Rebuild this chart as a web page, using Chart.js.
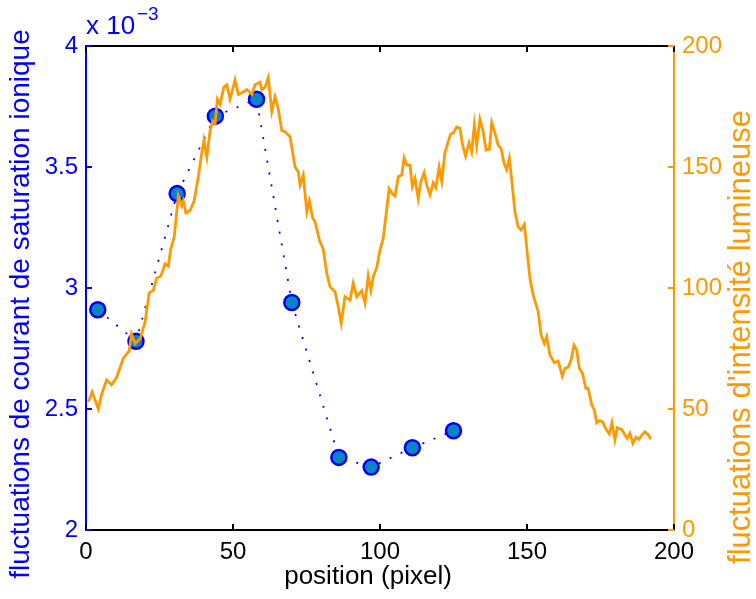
<!DOCTYPE html>
<html>
<head>
<meta charset="utf-8">
<script src="https://cdn.jsdelivr.net/npm/chart.js@4.4.1/dist/chart.umd.min.js"></script>
<style>
  html, body { margin:0; padding:0; background:#fff; }
  #wrap { width:756px; height:599px; }
</style>
</head>
<body>
<div id="wrap"><canvas id="c" width="756" height="599"></canvas></div>
<script>
// blue probe points (x 10^-3)
const posX = [4, 17, 31, 44, 58, 70, 86, 97, 111, 125];
const courant = [2.91, 2.78, 3.39, 3.71, 3.78, 2.94, 2.30, 2.26, 2.34, 2.41];

// orange light profile
const lumX = [0.8, 2.1, 4.2, 5.3, 7.0, 8.7, 10.4, 12.7, 14.7, 15.5, 16.7, 18.4, 20.1, 21.5, 22.9, 24.0, 25.5, 26.9, 28.0, 28.8,
  30.0, 31.4, 32.6, 33.1, 34.0, 35.4, 36.8, 38.2, 39.4, 40.1, 41.1, 42.2, 43.1, 43.9, 44.7, 45.6, 46.9, 47.9, 49.0, 50.7,
  51.8, 53.5, 54.7, 56.4, 57.5, 59.2, 59.8, 60.9, 62.0, 63.2, 64.3, 65.4, 66.6, 67.7, 69.4, 71.1, 72.2, 72.8, 73.9, 75.1,
  76.0, 77.1, 77.9, 79.4, 80.7, 81.9, 83.0, 84.7, 85.8, 86.8, 88.1, 89.8, 90.9, 92.1, 93.8, 94.9, 96.0, 96.9, 97.7, 98.9,
  100.0, 101.1, 103.1, 104.3, 105.1, 106.2, 107.4, 108.2, 109.1, 110.2, 111.0, 111.9, 113.0, 113.9, 115.0, 115.9, 117.0, 118.1, 119.0, 120.1,
  121.0, 122.1, 123.2, 124.0, 124.9, 126.1, 127.2, 128.1, 129.1, 130.3, 131.2, 132.1, 132.9, 134.0, 135.1, 136.1, 137.2, 138.0, 139.1, 140.2,
  141.2, 142.2, 143.1, 144.0, 144.8, 145.9, 147.0, 148.0, 149.1, 150.1, 151.0, 152.1, 153.1, 153.8, 154.8, 155.9, 156.7, 157.8, 159.3, 160.6,
  162.0, 162.9, 164.0, 165.0, 166.0, 166.9, 167.8, 168.9, 170.0, 170.8, 172.0, 172.9, 173.7, 174.6, 175.7, 176.9, 178.0, 178.9, 179.9, 180.7,
  182.2, 183.3, 184.1, 185.0, 186.0, 187.1, 188.1, 189.0, 190.1, 191.3, 192.1];
const lumY = [53, 57, 50, 56, 62, 60, 63, 71, 74, 81, 77, 79, 86, 98, 99, 104, 105, 110, 109, 116,
  121, 138, 134, 136, 131, 132, 136, 146, 156, 161, 154, 165, 169, 168, 178, 176, 183, 184, 178, 186,
  180, 181, 182, 180, 184, 185, 182, 183, 187, 173, 179, 174, 165, 164.6, 162.5, 150, 148, 142.6, 146.7, 131.5,
  136, 128.8, 127.4, 119.8, 116, 106, 100.5, 98.5, 92.3, 85.4, 96.4, 95, 102, 96.4, 98.9, 93.7, 105, 99, 104.7, 108.5,
  115.7, 120.5, 141, 138.7, 138, 146, 146.7, 153.8, 150.8, 150.8, 141.9, 145.3, 137, 144, 147.7, 142.6, 138.4, 143.5, 141.5, 150,
  144, 156, 160.5, 163.6, 164, 166.5, 166, 159, 154.5, 160, 156.3, 167.4, 159, 169.7, 164.6, 157, 157.3, 168.3, 164, 159,
  157.7, 151.5, 148.8, 153.6, 144.6, 131.5, 125.3, 124, 126.3, 114.3, 104, 97, 93, 90.2, 80.6, 77.1, 79.9, 72.3, 69.1, 69.8,
  63.6, 66.8, 67.2, 70.2, 76.4, 74.4, 66.8, 64.7, 58.5, 58.5, 51.7, 49.6, 44.3, 45.2, 44.8, 41.6, 39.7, 44.3, 37.2, 42.3,
  41.6, 39.3, 37.9, 40, 35.8, 38.3, 37.5, 39.1, 40.6, 39.3, 37.5];

const xTicks = [0, 50, 100, 150, 200];
const leftTicks = [2, 2.5, 3, 3.5, 4];
const rightTicks = [0, 50, 100, 150, 200];

const BLUE = '#0000ff';
const ORANGE = '#ff9900';
const FONT = 'Liberation Sans, Arial, sans-serif';

// MATLAB style: ticks inside the box, top border, rotated titles
const decor = {
  id: 'decor',
  afterDraw(chart) {
    const { ctx, chartArea: a, scales } = chart;
    ctx.save();
    ctx.lineWidth = 2;
    const L = 6;
    ctx.strokeStyle = '#000';
    ctx.beginPath();
    ctx.moveTo(a.left, a.top); ctx.lineTo(a.right, a.top);
    xTicks.forEach(v => {
      const px = Math.round(scales.x.getPixelForValue(v));
      ctx.moveTo(px, a.bottom); ctx.lineTo(px, a.bottom - L);
      ctx.moveTo(px, a.top); ctx.lineTo(px, a.top + L);
    });
    ctx.stroke();
    ctx.strokeStyle = BLUE;
    ctx.beginPath();
    leftTicks.forEach(v => {
      const py = Math.round(scales.y.getPixelForValue(v));
      ctx.moveTo(a.left, py); ctx.lineTo(a.left + L, py);
    });
    ctx.stroke();
    ctx.strokeStyle = ORANGE;
    ctx.beginPath();
    rightTicks.forEach(v => {
      const py = Math.round(scales.y2.getPixelForValue(v));
      ctx.moveTo(a.right, py); ctx.lineTo(a.right - L, py);
    });
    ctx.stroke();

    // axis titles, both reading bottom to top
    ctx.textAlign = 'center';
    ctx.textBaseline = 'middle';
    ctx.font = '28px ' + FONT;
    ctx.fillStyle = BLUE;
    ctx.save();
    ctx.translate(21, 304);
    ctx.rotate(-Math.PI / 2);
    ctx.fillText('fluctuations de courant de saturation ionique', 0, 0);
    ctx.restore();
    ctx.font = '31px ' + FONT;
    ctx.fillStyle = ORANGE;
    ctx.save();
    ctx.translate(741, 337);
    ctx.rotate(-Math.PI / 2);
    ctx.fillText("fluctuations d'intensité lumineuse", 0, 0);
    ctx.restore();

    ctx.fillStyle = '#000';
    ctx.font = '26px ' + FONT;
    ctx.fillText('position (pixel)', 368, 577);

    // exponent
    ctx.fillStyle = BLUE;
    ctx.textAlign = 'left';
    ctx.textBaseline = 'alphabetic';
    ctx.font = '26px ' + FONT;
    ctx.fillText('x 10', 86, 34);
    ctx.font = '19px ' + FONT;
    ctx.fillText('\u22123', 137, 20);
    ctx.restore();
  }
};

new Chart(document.getElementById('c'), {
  type: 'scatter',
  data: {
    datasets: [
      {
        label: 'intensité',
        data: lumX.map((x, i) => ({ x, y: lumY[i] })),
        yAxisID: 'y2',
        showLine: true,
        borderColor: ORANGE,
        borderWidth: 2.8,
        pointRadius: 0,
        tension: 0,
        order: 0
      },
      {
        label: 'courant',
        data: posX.map((x, i) => ({ x, y: courant[i] })),
        yAxisID: 'y',
        showLine: true,
        borderColor: BLUE,
        borderWidth: 1.8,
        borderDash: [2, 10],
        pointRadius: 7.5,
        pointBorderWidth: 2.5,
        pointBackgroundColor: '#0b84c4',
        pointBorderColor: BLUE,
        tension: 0,
        order: 1
      }
    ]
  },
  options: {
    responsive: false,
    animation: false,
    layout: { padding: { top: 46, left: 0, right: 0, bottom: 0 } },
    plugins: { legend: { display: false }, tooltip: { enabled: false } },
    scales: {
      x: {
        type: 'linear', min: 0, max: 200,
        afterBuildTicks: s => { s.ticks = xTicks.map(v => ({ value: v })); },
        afterFit: s => { s.height = 69; },
        grid: { display: false, drawTicks: false },
        border: { color: '#000', width: 2 },
        ticks: { color: '#000', padding: 8, font: { family: FONT, size: 24 }, maxRotation: 0 }
      },
      y: {
        type: 'linear', position: 'left', min: 2, max: 4,
        afterBuildTicks: s => { s.ticks = leftTicks.map(v => ({ value: v })); },
        afterFit: s => { s.width = 86; },
        grid: { display: false, drawTicks: false },
        border: { color: BLUE, width: 2 },
        ticks: { color: BLUE, padding: 8, font: { family: FONT, size: 24 }, callback: v => String(v) }
      },
      y2: {
        type: 'linear', position: 'right', min: 0, max: 200,
        afterBuildTicks: s => { s.ticks = rightTicks.map(v => ({ value: v })); },
        afterFit: s => { s.width = 82; },
        grid: { display: false, drawTicks: false },
        border: { color: ORANGE, width: 2 },
        ticks: { color: ORANGE, padding: 8, font: { family: FONT, size: 24 } }
      }
    }
  },
  plugins: [decor]
});
</script>
</body>
</html>
